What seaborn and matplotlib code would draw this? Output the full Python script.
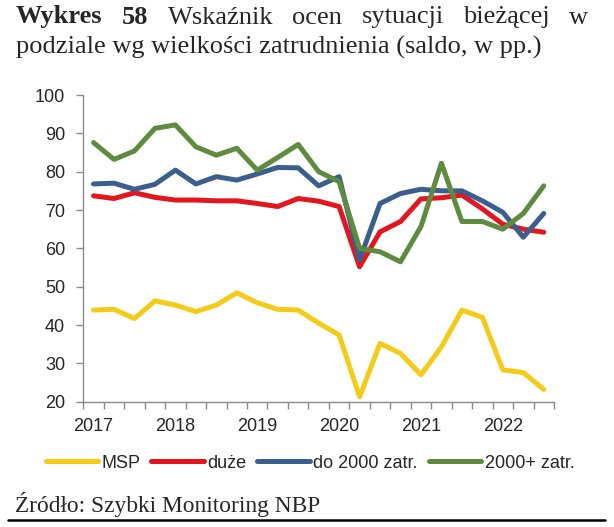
import numpy as np
import pandas as pd
import matplotlib
matplotlib.use('Agg')
import matplotlib.pyplot as plt
import seaborn as sns

# dane kwartalne 2017 Q1 - 2022 Q3
kwartaly = ['2017 Q1', '2017 Q2', '2017 Q3', '2017 Q4',
            '2018 Q1', '2018 Q2', '2018 Q3', '2018 Q4',
            '2019 Q1', '2019 Q2', '2019 Q3', '2019 Q4',
            '2020 Q1', '2020 Q2', '2020 Q3', '2020 Q4',
            '2021 Q1', '2021 Q2', '2021 Q3', '2021 Q4',
            '2022 Q1', '2022 Q2', '2022 Q3']
lata = ['2017', '2018', '2019', '2020', '2021', '2022']

msp = [43.9, 44.1, 41.7, 46.3, 45.2, 43.5, 45.2, 48.4, 45.8, 44.1, 43.9, 40.5,
       37.4, 21.3, 35.2, 32.6, 27.0, 34.3, 43.9, 42.0, 28.3, 27.6, 23.2]
duze = [73.7, 73.0, 74.5, 73.3, 72.6, 72.6, 72.4, 72.4, 71.7, 70.9, 73.0, 72.3,
        70.9, 55.2, 64.3, 67.0, 72.9, 73.2, 73.9, 70.3, 66.3, 65.0, 64.2]
do2000 = [76.8, 77.0, 75.4, 76.7, 80.4, 76.8, 78.7, 77.8, 79.4, 81.1, 81.0, 76.3,
          78.7, 57.0, 71.7, 74.3, 75.4, 75.0, 75.0, 72.4, 69.4, 62.9, 69.1]
ponad2000 = [87.6, 83.2, 85.4, 91.3, 92.2, 86.5, 84.3, 86.1, 80.4, 83.7, 87.1, 80.0,
             77.4, 60.0, 59.1, 56.5, 65.7, 82.2, 67.0, 67.0, 65.0, 69.1, 76.3]

serie = ['MSP', 'duże', 'do 2000 zatr.', '2000+ zatr.']
kolory = ['#F4CC18', '#E3161E', '#3A5E8E', '#5E8B3F']

df = pd.DataFrame({'MSP': msp, 'duże': duze, 'do 2000 zatr.': do2000,
                   '2000+ zatr.': ponad2000})
df['t'] = np.arange(len(kwartaly))
dlugi = df.melt(id_vars='t', var_name='seria', value_name='saldo')

sns.set_style('white')
plt.rcParams['font.family'] = ['Liberation Sans', 'DejaVu Sans']

W, H = 614, 527
fig = plt.figure(figsize=(W / 100, H / 100), dpi=100)
ax = fig.add_axes([83.3 / W, 1 - 401.7 / H, (554 - 83.3) / W, (401.7 - 95) / H])

sns.lineplot(data=dlugi, x='t', y='saldo', hue='seria', hue_order=serie,
             palette=kolory, linewidth=3.6, ax=ax, legend=False)

ax.set_xlim(-0.5, len(kwartaly) - 0.5)
ax.set_ylim(20, 100)
ax.set_yticks(range(20, 101, 10))
ax.set_xticks(np.arange(-0.5, len(kwartaly), 1.0))
ax.set_xticklabels([])
ax.set_xticks(np.arange(0, len(kwartaly), 4), labels=lata, minor=True)
ax.set_xlabel('')
ax.set_ylabel('')

szary = '#8A8A8A'
for s in ['top', 'right']:
    ax.spines[s].set_visible(False)
for s in ['left', 'bottom']:
    ax.spines[s].set_color(szary)
    ax.spines[s].set_linewidth(1.0)
ax.tick_params(axis='y', which='major', length=5, width=1, color=szary,
               labelsize=13, pad=8, left=True, direction='out')
ax.tick_params(axis='x', which='major', length=5, width=1, color=szary,
               bottom=True, direction='out')
ax.tick_params(axis='x', which='minor', length=0, labelsize=13, pad=12)
ax.grid(False)

# legenda
uchwyty = [plt.Line2D([], [], color=c, lw=3.6) for c in kolory]
fig.legend(uchwyty, serie, loc='center', bbox_to_anchor=(310 / W, 1 - 463 / H),
           ncol=4, frameon=False, fontsize=13, handlelength=2.9,
           handletextpad=0.2, columnspacing=0.6)

# tytuł - pierwsza linia wyjustowana
serif = ['Liberation Serif', 'DejaVu Serif']
slowa = [('Wykres', 'bold'), ('58', 'bold'), ('Wskaźnik', 'normal'),
         ('ocen', 'normal'), ('sytuacji', 'normal'), ('bieżącej', 'normal'),
         ('w', 'normal')]
rozmiar = 19
r = fig.canvas.get_renderer()
teksty = []
for s, w in slowa:
    t = fig.text(0, 1 - 23.5 / H, s, fontsize=rozmiar, fontweight=w,
                 family=serif, va='baseline')
    teksty.append(t)
szer = [t.get_window_extent(r).width for t in teksty]
x0, x1 = 16, 588
odstep = (x1 - x0 - sum(szer)) / (len(szer) - 1)
x = x0
for t, sz in zip(teksty, szer):
    t.set_x(x / W)
    x += sz + odstep

fig.text(16 / W, 1 - 54 / H, 'podziale wg wielkości zatrudnienia (saldo, w pp.)',
         fontsize=rozmiar, family=serif, va='baseline')

fig.text(15 / W, 1 - 512 / H, 'Źródło: Szybki Monitoring NBP',
         fontsize=16.8, family=serif, va='baseline')
fig.add_artist(plt.Line2D([8 / W, 605 / W], [1 - 519.5 / H, 1 - 519.5 / H],
                          color='black', lw=1.8))

fig.savefig('out.png', dpi=100)
